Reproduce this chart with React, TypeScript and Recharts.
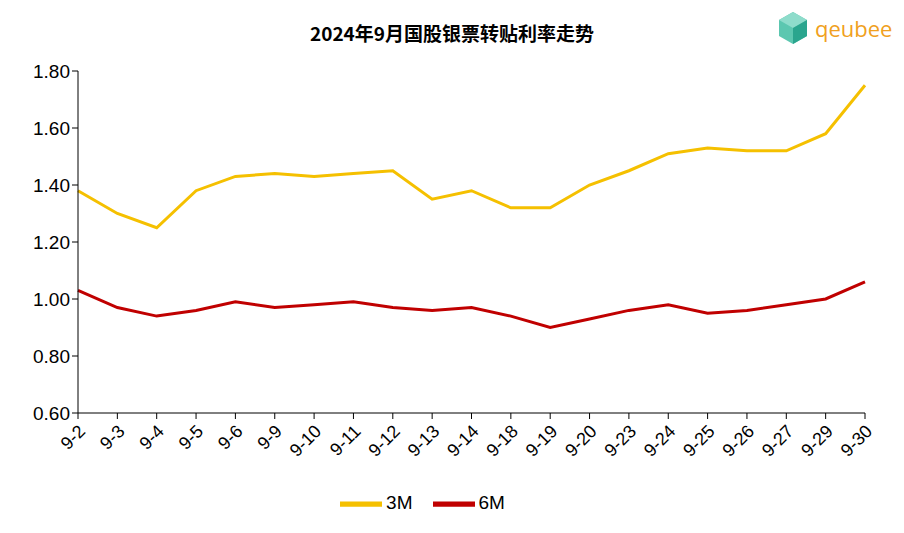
import React from 'react';
import { LineChart, Line, XAxis, YAxis, Legend } from 'recharts';

const dates = ['9-2','9-3','9-4','9-5','9-6','9-9','9-10','9-11','9-12','9-13','9-14','9-18','9-19','9-20','9-23','9-24','9-25','9-26','9-27','9-29','9-30'];
const rate3M = [1.38,1.30,1.25,1.38,1.43,1.44,1.43,1.44,1.45,1.35,1.38,1.32,1.32,1.40,1.45,1.51,1.53,1.52,1.52,1.58,1.75];
const rate6M = [1.03,0.97,0.94,0.96,0.99,0.97,0.98,0.99,0.97,0.96,0.97,0.94,0.90,0.93,0.96,0.98,0.95,0.96,0.98,1.00,1.06];
const yTicks = [0.6,0.8,1.0,1.2,1.4,1.6,1.8];

const data = dates.map((d, i) => ({ date: d, '3M': rate3M[i], '6M': rate6M[i] }));

const XTick = (props: any) => {
  const { x, y, payload } = props;
  return (
    <text x={x + 5} y={y + 8} textAnchor="end" transform={`rotate(-45, ${x + 5}, ${y + 8})`}
      fontSize={18} fill="#000" dominantBaseline="middle">{payload.value}</text>
  );
};

const App: React.FC = () => {
  return (
    <div style={{ position: 'fixed', left: 0, top: 0, width: 904, height: 533, background: '#fff', fontFamily: 'Arial, "Liberation Sans", sans-serif' }}>
      <div style={{ position: 'absolute', top: 19, left: 0, width: 904, textAlign: 'center', fontWeight: 'bold', fontSize: 19, fontFamily: '"Noto Sans CJK SC", sans-serif' }}>
        2024年9月国股银票转贴利率走势
      </div>
      <div style={{ position: 'absolute', top: 10, left: 775, display: 'flex', alignItems: 'center' }}>
        <svg width={36} height={36} viewBox="0 0 36 36">
          <polygon points="18,2 32,10 32,26 18,34 4,26 4,10" fill="#5cc7b0" />
          <polygon points="18,2 32,10 18,18 4,10" fill="#8edccb" />
          <polygon points="18,18 32,10 32,26 18,34" fill="#2aa58e" />
        </svg>
        <span style={{ color: '#f0a020', fontSize: 22, marginLeft: 4, fontFamily: '"Open Sans", sans-serif' }}>qeubee</span>
      </div>
      <LineChart width={904} height={533} data={data} margin={{ top: 71, right: 39, left: 0, bottom: 0 }}>
        <XAxis dataKey="date" height={70} interval={0} tick={<XTick />} stroke="#000" tickLine={{ stroke: '#000' }} tickSize={6} />
        <YAxis domain={[0.6, 1.8]} ticks={yTicks} width={78} tickFormatter={(v: number) => v.toFixed(2)}
          tick={{ fontSize: 19, fill: '#000' }} stroke="#000" tickSize={6} />
        <Legend height={50} iconType="plainline" iconSize={42} wrapperStyle={{ fontSize: 19, color: '#000' }}
          formatter={(v: string) => <span style={{ color: '#000', marginRight: 10 }}>{v}</span>} />
        <Line dataKey="3M" stroke="#F5C000" strokeWidth={3} dot={false} isAnimationActive={false} />
        <Line dataKey="6M" stroke="#C00000" strokeWidth={3} dot={false} isAnimationActive={false} />
      </LineChart>
    </div>
  );
};

export default App;
